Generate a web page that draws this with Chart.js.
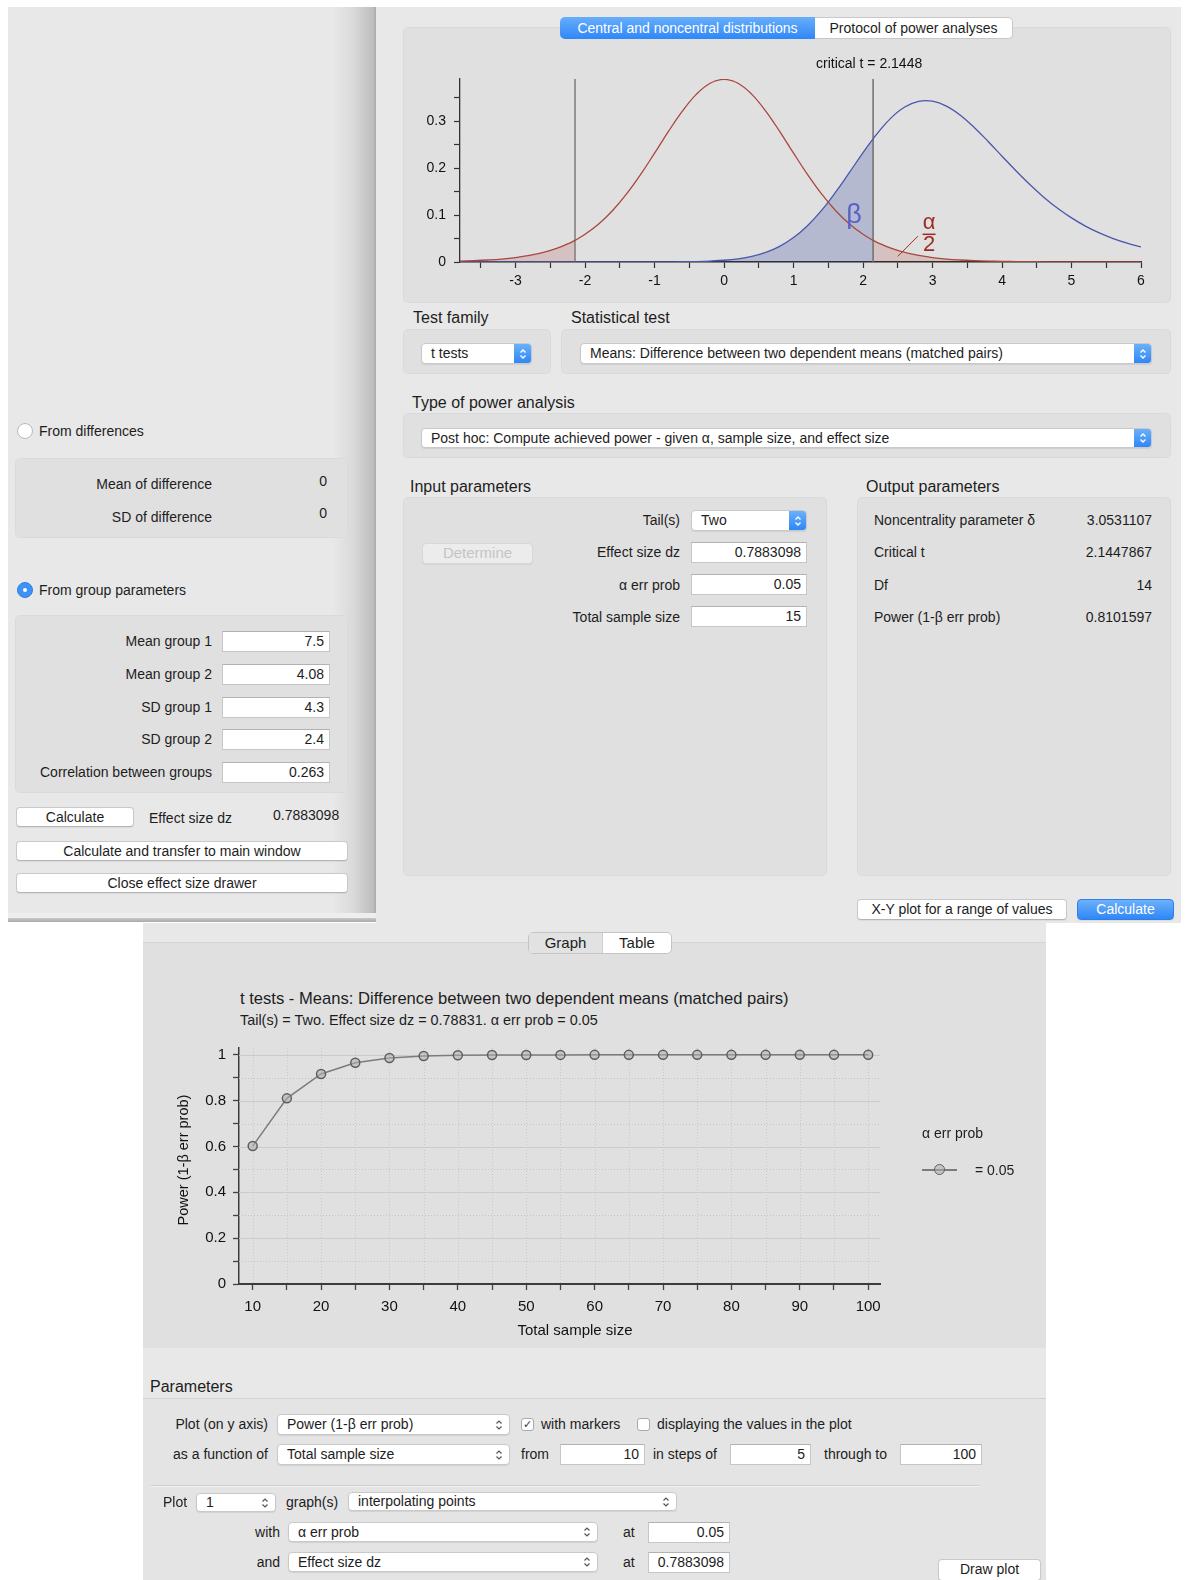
<!DOCTYPE html>
<html>
<head>
<meta charset="utf-8">
<title>G*Power - matched pairs t test</title>
<script src="https://cdn.jsdelivr.net/npm/chart.js@4.4.1/dist/chart.umd.min.js"></script>
<style>
  :root { --f: "Liberation Sans", Arial, Helvetica, sans-serif; }
  html, body { margin: 0; padding: 0; background: #fff; }
  #page { position: relative; width: 1187px; height: 1580px; overflow: hidden; font: 14px var(--f); color: #1d1d1d; }
  .a { position: absolute; }
  .tx { position: absolute; white-space: nowrap; line-height: 16px; height: 16px; }
  .hd { position: absolute; white-space: nowrap; font-size: 16px; line-height: 18px; }
  .grp { position: absolute; background: #e0e0e0; border-radius: 5px; box-shadow: inset 0 0 0 1px rgba(0,0,0,0.025); }
  .sel { position: absolute; box-sizing: border-box; background: #fff; border: 1px solid #c9c9c9; border-radius: 4px;
         box-shadow: 0 1px 1px rgba(0,0,0,0.08); line-height: 19px; padding-left: 9px; white-space: nowrap; overflow: hidden; }
  .step { position: absolute; right: -1px; top: -1px; bottom: -1px; width: 18px; border-radius: 0 4px 4px 0;
          background: url("data:image/svg+xml,%3Csvg xmlns='http://www.w3.org/2000/svg' width='8' height='12'%3E%3Cpath d='M1.5 4.5L4 2L6.5 4.5M1.5 7.5L4 10L6.5 7.5' stroke='white' stroke-width='1.4' fill='none'/%3E%3C/svg%3E") center/8px 12px no-repeat, linear-gradient(#6cb3fb, #2c84f6); }
  .chev { position: absolute; right: 6px; top: 0; bottom: 0; width: 8px;
          background: url("data:image/svg+xml,%3Csvg xmlns='http://www.w3.org/2000/svg' width='8' height='12'%3E%3Cpath d='M1.5 4.5L4 2L6.5 4.5M1.5 7.5L4 10L6.5 7.5' stroke='%23555' stroke-width='1.2' fill='none'/%3E%3C/svg%3E") center/8px 12px no-repeat; }
  .inp { position: absolute; box-sizing: border-box; background: #fff; border: 1px solid #c6c6c6; border-top-color: #b2b2b2;
         text-align: right; padding-right: 5px; line-height: 19px; white-space: nowrap; }
  .btn { position: absolute; box-sizing: border-box; background: #fff; border: 1px solid #c9c9c9; border-bottom-color: #b4b4b4;
         border-radius: 4px; text-align: center; line-height: 18px; white-space: nowrap; box-shadow: 0 1px 1px rgba(0,0,0,0.06); }
  .rad { position: absolute; width: 16px; height: 16px; box-sizing: border-box; border-radius: 50%; background: #fff; border: 1px solid #b9b9b9; }
  .rad.on { background: #3d91f7; border-color: #2f80e4; }
  .rad.on::after { content: ''; position: absolute; left: 5px; top: 5px; width: 4px; height: 4px; border-radius: 50%; background: #fff; }
  .chk { position: absolute; width: 13px; height: 13px; box-sizing: border-box; border: 1px solid #a9a9a9; border-radius: 3px;
         background: #fff; font-size: 11px; line-height: 11px; text-align: center; color: #333; }
  canvas { position: absolute; }
</style>
</head>
<body>
<div id="page">

  <!-- effect size drawer -->
  <div class="a" style="left:8px;top:7px;width:368px;height:915px;background:linear-gradient(to right,#e8e8e8 0,#e8e8e8 325px,#dadada 345px,#bdbdbd 365px,#a9a9a9 368px);"></div>
  <div class="a" style="left:8px;top:913px;width:368px;height:5px;background:#eeeeee;"></div>
  <div class="a" style="left:8px;top:918px;width:368px;height:4px;background:linear-gradient(#c9c9c9,#a9a9a9);"></div>

  <div class="rad" style="left:17px;top:423px;"></div>
  <div class="tx" style="left:39px;top:423px;">From differences</div>
  <div class="grp" style="left:15px;top:458px;width:333px;height:80px;"></div>
  <div class="tx" style="right:975px;top:476px;">Mean of difference</div>
  <div class="tx" style="right:860px;top:473px;">0</div>
  <div class="tx" style="right:975px;top:509px;">SD of difference</div>
  <div class="tx" style="right:860px;top:505px;">0</div>

  <div class="rad on" style="left:17px;top:582px;"></div>
  <div class="tx" style="left:39px;top:582px;">From group parameters</div>
  <div class="grp" style="left:15px;top:615px;width:333px;height:178px;"></div>
  <div class="tx" style="right:975px;top:633px;">Mean group 1</div>
  <div class="inp" style="left:222px;top:631px;width:108px;height:21px;">7.5</div>
  <div class="tx" style="right:975px;top:666px;">Mean group 2</div>
  <div class="inp" style="left:222px;top:664px;width:108px;height:21px;">4.08</div>
  <div class="tx" style="right:975px;top:699px;">SD group 1</div>
  <div class="inp" style="left:222px;top:697px;width:108px;height:21px;">4.3</div>
  <div class="tx" style="right:975px;top:731px;">SD group 2</div>
  <div class="inp" style="left:222px;top:729px;width:108px;height:21px;">2.4</div>
  <div class="tx" style="right:975px;top:764px;">Correlation between groups</div>
  <div class="inp" style="left:222px;top:762px;width:108px;height:21px;">0.263</div>

  <div class="btn" style="left:16px;top:807px;width:118px;height:20px;">Calculate</div>
  <div class="tx" style="left:149px;top:810px;">Effect size dz</div>
  <div class="tx" style="left:273px;top:807px;">0.7883098</div>
  <div class="btn" style="left:16px;top:841px;width:332px;height:20px;">Calculate and transfer to main window</div>
  <div class="btn" style="left:16px;top:873px;width:332px;height:20px;">Close effect size drawer</div>

  <!-- main window -->
  <div class="a" style="left:376px;top:7px;width:805px;height:916px;background:#e8e8e8;"></div>
  <div class="grp" style="left:403px;top:27px;width:768px;height:276px;"></div>
  <div class="a" style="left:560px;top:17px;width:255px;height:22px;border-radius:5px 0 0 5px;background:linear-gradient(#67aefb,#2f87f7);color:#fff;text-align:center;line-height:22px;white-space:nowrap;">Central and noncentral distributions</div>
  <div class="a" style="left:815px;top:17px;width:198px;height:22px;box-sizing:border-box;border:1px solid #c8c8c8;border-left:none;border-radius:0 5px 5px 0;background:#fff;text-align:center;line-height:20px;white-space:nowrap;">Protocol of power analyses</div>
  <canvas id="distChart" width="768" height="262" style="left:403px;top:40px;"></canvas>

  <div class="hd" style="left:413px;top:309px;">Test family</div>
  <div class="hd" style="left:571px;top:309px;">Statistical test</div>
  <div class="grp" style="left:403px;top:329px;width:148px;height:45px;"></div>
  <div class="grp" style="left:561px;top:329px;width:610px;height:45px;"></div>
  <div class="sel" style="left:421px;top:343px;width:111px;height:21px;">t tests<i class="step"></i></div>
  <div class="sel" style="left:580px;top:343px;width:572px;height:21px;">Means: Difference between two dependent means (matched pairs)<i class="step"></i></div>

  <div class="hd" style="left:412px;top:394px;">Type of power analysis</div>
  <div class="grp" style="left:403px;top:413px;width:768px;height:45px;"></div>
  <div class="sel" style="left:421px;top:428px;width:731px;height:20px;line-height:18px;">Post hoc: Compute achieved power - given α, sample size, and effect size<i class="step"></i></div>

  <div class="hd" style="left:410px;top:478px;">Input parameters</div>
  <div class="hd" style="left:866px;top:478px;">Output parameters</div>
  <div class="grp" style="left:403px;top:497px;width:424px;height:379px;"></div>
  <div class="grp" style="left:857px;top:497px;width:314px;height:379px;"></div>

  <div class="tx" style="right:507px;top:512px;">Tail(s)</div>
  <div class="sel" style="left:691px;top:510px;width:116px;height:21px;">Two<i class="step"></i></div>
  <div class="btn" style="left:422px;top:543px;width:111px;height:21px;color:#c4c4c4;background:#ececec;border-color:#d8d8d8;font-size:15px;">Determine</div>
  <div class="tx" style="right:507px;top:544px;">Effect size dz</div>
  <div class="inp" style="left:691px;top:542px;width:116px;height:21px;">0.7883098</div>
  <div class="tx" style="right:507px;top:577px;">α err prob</div>
  <div class="inp" style="left:691px;top:574px;width:116px;height:21px;">0.05</div>
  <div class="tx" style="right:507px;top:609px;">Total sample size</div>
  <div class="inp" style="left:691px;top:606px;width:116px;height:21px;">15</div>

  <div class="tx" style="left:874px;top:512px;">Noncentrality parameter δ</div>
  <div class="tx" style="right:35px;top:512px;">3.0531107</div>
  <div class="tx" style="left:874px;top:544px;">Critical t</div>
  <div class="tx" style="right:35px;top:544px;">2.1447867</div>
  <div class="tx" style="left:874px;top:577px;">Df</div>
  <div class="tx" style="right:35px;top:577px;">14</div>
  <div class="tx" style="left:874px;top:609px;">Power (1-β err prob)</div>
  <div class="tx" style="right:35px;top:609px;">0.8101597</div>

  <div class="btn" style="left:857px;top:899px;width:210px;height:21px;">X-Y plot for a range of values</div>
  <div class="btn" style="left:1077px;top:899px;width:97px;height:21px;color:#fff;border-color:#2f7fe6;background:linear-gradient(#6cb1fb,#2f87f7);">Calculate</div>

  <!-- plot window -->
  <div class="a" style="left:143px;top:923px;width:903px;height:657px;background:#e8e8e8;"></div>
  <div class="a" style="left:143px;top:942px;width:903px;height:1px;background:#d4d4d4;"></div>
  <div class="a" style="left:143px;top:943px;width:903px;height:405px;background:#e0e0e0;"></div>
  <div class="a" style="left:528px;top:932px;width:144px;height:22px;box-sizing:border-box;border:1px solid #c4c4c4;border-radius:5px;background:#fff;overflow:hidden;font-size:15px;line-height:20px;">
    <div class="a" style="left:0;top:0;width:73px;height:20px;background:#e2e2e2;border-right:1px solid #cfcfcf;text-align:center;">Graph</div>
    <div class="a" style="left:74px;top:0;width:68px;height:20px;text-align:center;">Table</div>
  </div>

  <div class="a" style="left:240px;top:989px;font-size:16.6px;line-height:20px;white-space:nowrap;">t tests - Means: Difference between two dependent means (matched pairs)</div>
  <div class="a" style="left:240px;top:1012px;font-size:14.4px;line-height:17px;white-space:nowrap;">Tail(s) = Two. Effect size dz = 0.78831. α err prob = 0.05</div>
  <canvas id="powerChart" width="903" height="406" style="left:143px;top:942px;"></canvas>
  <div class="a" style="left:475px;top:1321px;width:200px;text-align:center;font-size:15px;line-height:18px;white-space:nowrap;color:#111;">Total sample size</div>
  <div class="a" style="left:83px;top:1151px;width:200px;height:18px;text-align:center;font-size:14.5px;line-height:18px;white-space:nowrap;color:#111;transform:rotate(-90deg);">Power (1-β err prob)</div>

  <div class="tx" style="left:922px;top:1125px;">α err prob</div>
  <div class="a" style="left:922px;top:1169px;width:35px;height:2px;background:#7c7c7c;"></div>
  <div class="a" style="left:934px;top:1164px;width:9px;height:9px;border:1.5px solid #5e5e5e;border-radius:50%;background:rgba(175,175,175,0.55);"></div>
  <div class="tx" style="left:975px;top:1162px;">= 0.05</div>

  <div class="hd" style="left:150px;top:1378px;">Parameters</div>
  <div class="a" style="left:143px;top:1398px;width:903px;height:182px;background:#e4e4e4;border-top:1px solid #d2d2d2;"></div>

  <div class="tx" style="right:919px;top:1416px;">Plot (on y axis)</div>
  <div class="sel" style="left:277px;top:1414px;width:233px;height:21px;">Power (1-β err prob)<i class="chev"></i></div>
  <div class="chk" style="left:521px;top:1418px;">✓</div>
  <div class="tx" style="left:541px;top:1416px;">with markers</div>
  <div class="chk" style="left:637px;top:1418px;"></div>
  <div class="tx" style="left:657px;top:1416px;">displaying the values in the plot</div>

  <div class="tx" style="right:919px;top:1446px;">as a function of</div>
  <div class="sel" style="left:277px;top:1444px;width:233px;height:21px;">Total sample size<i class="chev"></i></div>
  <div class="tx" style="left:521px;top:1446px;">from</div>
  <div class="inp" style="left:560px;top:1444px;width:85px;height:21px;">10</div>
  <div class="tx" style="left:653px;top:1446px;">in steps of</div>
  <div class="inp" style="left:730px;top:1444px;width:81px;height:21px;">5</div>
  <div class="tx" style="left:824px;top:1446px;">through to</div>
  <div class="inp" style="left:900px;top:1444px;width:82px;height:21px;">100</div>

  <div class="a" style="left:151px;top:1485px;width:828px;height:1px;background:#cdcdcd;box-shadow:0 1px 0 #f2f2f2;"></div>

  <div class="tx" style="left:163px;top:1494px;">Plot</div>
  <div class="sel" style="left:196px;top:1493px;width:80px;height:19px;line-height:17px;">1<i class="chev"></i></div>
  <div class="tx" style="left:286px;top:1494px;">graph(s)</div>
  <div class="sel" style="left:348px;top:1492px;width:329px;height:19px;line-height:17px;">interpolating points<i class="chev"></i></div>

  <div class="tx" style="right:907px;top:1524px;">with</div>
  <div class="sel" style="left:288px;top:1522px;width:310px;height:20px;line-height:18px;">α err prob<i class="chev"></i></div>
  <div class="tx" style="left:623px;top:1524px;">at</div>
  <div class="inp" style="left:648px;top:1522px;width:82px;height:21px;">0.05</div>

  <div class="tx" style="right:907px;top:1554px;">and</div>
  <div class="sel" style="left:288px;top:1552px;width:310px;height:20px;line-height:18px;">Effect size dz<i class="chev"></i></div>
  <div class="tx" style="left:623px;top:1554px;">at</div>
  <div class="inp" style="left:648px;top:1552px;width:82px;height:21px;">0.7883098</div>

  <div class="btn" style="left:938px;top:1559px;width:103px;height:22px;">Draw plot</div>
</div>

<script>
// ---- distribution plot: central t (H0) and noncentral t (H1), df = 14 ----
const tGrid = [-3.8, -3.6, -3.4, -3.2, -3.0, -2.8, -2.6, -2.4, -2.2, -2.1448, -2.0, -1.8, -1.6, -1.4, -1.2,
  -1.0, -0.8, -0.6, -0.4, -0.2, 0, 0.2, 0.4, 0.6, 0.8, 1.0, 1.2, 1.4, 1.6, 1.8, 2.0, 2.1448,
  2.2, 2.4, 2.6, 2.8, 3.0, 3.2, 3.4, 3.6, 3.8, 4.0, 4.2, 4.4, 4.6, 4.8, 5.0, 5.2, 5.4, 5.6, 5.8, 6.0];
const densityH0 = [0.0019, 0.0029, 0.0043, 0.0063, 0.0094, 0.0139, 0.0203, 0.0294, 0.0420, 0.0462, 0.0591, 0.0817, 0.1104, 0.1456, 0.1867,
  0.2319, 0.2783, 0.3216, 0.3573, 0.3809, 0.3891, 0.3809, 0.3573, 0.3216, 0.2783, 0.2319, 0.1867, 0.1456, 0.1104, 0.0817, 0.0591, 0.0462,
  0.0420, 0.0294, 0.0203, 0.0139, 0.0094, 0.0063, 0.0043, 0.0029, 0.0019, 0.0013, 0.0009, 0.0006, 0.0004, 0.0003, 0.0002, 0.0001, 0.0001, 0.0001, 0, 0];
const densityH1 = [0, 0, 0, 0, 0, 0, 0, 0, 0, 0, 0, 0, 0, 0, 0.0001,
  0.0001, 0.0003, 0.0005, 0.0010, 0.0020, 0.0037, 0.0068, 0.0120, 0.0205, 0.0334, 0.0520, 0.0773, 0.1095, 0.1478, 0.1900, 0.2331, 0.2626,
  0.2732, 0.3066, 0.3302, 0.3424, 0.3428, 0.3322, 0.3128, 0.2868, 0.2569, 0.2255, 0.1944, 0.1650, 0.1382, 0.1145, 0.0940, 0.0766, 0.0620, 0.0500, 0.0402, 0.0322];
const criticalT = 2.1448;
const densityMax = 0.39;
const betaLabelAt = [1.87, 0.10];
const alphaLabelAt = [2.95, 0.059];
const alphaPointer = [[2.5, 0.012], [2.79, 0.055]];

// ---- power plot ----
const sampleSizes = [10, 15, 20, 25, 30, 35, 40, 45, 50, 55, 60, 65, 70, 75, 80, 85, 90, 95, 100];
const powerValues = [0.6020, 0.8102, 0.9167, 0.9657, 0.9865, 0.9949, 0.9981, 0.9993, 0.9998, 0.9999,
  1.0, 1.0, 1.0, 1.0, 1.0, 1.0, 1.0, 1.0, 1.0];

const FONT = '"Liberation Sans", Arial, Helvetica, sans-serif';
const RED = "#a8473e";
const BLUE = "#4a57ab";

function curve(ys, keep) {
  return tGrid.map((t, i) => ({ x: t, y: ys[i] })).filter(p => !keep || keep(p.x));
}

function onStep(step) {
  return scale => {
    scale.ticks = scale.ticks.filter(t => {
      const k = t.value / step;
      return Math.abs(k - Math.round(k)) < 1e-6 && t.value >= scale.min - 1e-9 && t.value <= scale.max + 1e-9;
    });
  };
}

const distLabels = {
  id: "distLabels",
  afterDatasetsDraw(chart) {
    const { ctx, scales: { x, y } } = chart;
    ctx.save();
    ctx.textAlign = "center";
    ctx.textBaseline = "middle";

    ctx.font = "14px " + FONT;
    ctx.fillStyle = "#111";
    ctx.fillText("critical t = " + criticalT.toFixed(4), x.getPixelForValue(criticalT) - 4, 24);

    ctx.font = "27px " + FONT;
    ctx.fillStyle = "#5861c8";
    ctx.fillText("β", x.getPixelForValue(betaLabelAt[0]), y.getPixelForValue(betaLabelAt[1]));

    // alpha / 2 with pointer line
    const ax = x.getPixelForValue(alphaLabelAt[0]);
    const ay = y.getPixelForValue(alphaLabelAt[1]);
    ctx.fillStyle = "#9e2b22";
    ctx.strokeStyle = "#9e2b22";
    ctx.font = "22px " + FONT;
    ctx.fillText("α", ax, ay - 11);
    ctx.fillText("2", ax, ay + 11);
    ctx.lineWidth = 1.5;
    ctx.beginPath();
    ctx.moveTo(ax - 6.5, ay);
    ctx.lineTo(ax + 6.5, ay);
    ctx.stroke();
    ctx.lineWidth = 1;
    ctx.beginPath();
    ctx.moveTo(x.getPixelForValue(alphaPointer[0][0]), y.getPixelForValue(alphaPointer[0][1]));
    ctx.lineTo(x.getPixelForValue(alphaPointer[1][0]), y.getPixelForValue(alphaPointer[1][1]));
    ctx.stroke();
    ctx.restore();
  }
};

const smooth = { pointRadius: 0, tension: 0.4 };

new Chart(document.getElementById("distChart"), {
  type: "line",
  data: {
    datasets: [
      { data: curve(densityH0), borderColor: RED, borderWidth: 1.3, order: 1, ...smooth },
      { data: curve(densityH1), borderColor: BLUE, borderWidth: 1.3, order: 1, ...smooth },
      { data: [{ x: -criticalT, y: 0 }, { x: -criticalT, y: densityMax }], borderColor: "#7b7b7b", borderWidth: 1.5, pointRadius: 0, order: 2 },
      { data: [{ x: criticalT, y: 0 }, { x: criticalT, y: densityMax }], borderColor: "#6e6e6e", borderWidth: 1.5, pointRadius: 0, order: 2 },
      { data: curve(densityH1, t => t <= criticalT + 1e-9), fill: "origin", backgroundColor: "rgba(70,85,165,0.28)",
        borderColor: "rgba(0,0,0,0)", borderWidth: 0, order: 3, ...smooth },
      { data: curve(densityH0, t => t <= -criticalT + 1e-9), fill: "origin", backgroundColor: "rgba(170,70,60,0.2)",
        borderColor: "rgba(0,0,0,0)", borderWidth: 0, order: 3, ...smooth },
      { data: curve(densityH0, t => t >= criticalT - 1e-9), fill: "origin", backgroundColor: "rgba(170,70,60,0.2)",
        borderColor: "rgba(0,0,0,0)", borderWidth: 0, order: 3, ...smooth }
    ]
  },
  options: {
    responsive: false,
    animation: false,
    devicePixelRatio: 1,
    layout: { padding: { top: 39, right: 30, left: 0, bottom: 0 } },
    plugins: { legend: { display: false }, tooltip: { enabled: false } },
    scales: {
      x: {
        type: "linear", min: -3.8, max: 6,
        afterBuildTicks: onStep(0.5),
        afterFit: s => { s.height = 40; },
        ticks: { stepSize: 0.5, includeBounds: false, autoSkip: false, maxRotation: 0, padding: 5, color: "#111",
          font: { family: FONT, size: 14 },
          callback: v => Number.isInteger(Math.round(v * 1e6) / 1e6) ? String(Math.round(v)) : "" },
        grid: { drawOnChartArea: false, tickLength: 6, tickColor: "#333", tickWidth: 1.2 },
        border: { color: "#222", width: 1.6 }
      },
      y: {
        min: 0, max: densityMax,
        afterBuildTicks: onStep(0.05),
        afterFit: s => { s.width = 57; },
        ticks: { stepSize: 0.05, includeBounds: false, autoSkip: false, padding: 8, color: "#111",
          font: { family: FONT, size: 14 },
          callback: v => { const k = Math.round(v * 20); return k % 2 ? "" : (k === 0 ? "0" : (k / 20).toFixed(1)); } },
        grid: { drawOnChartArea: false, tickLength: 6, tickColor: "#333", tickWidth: 1.2 },
        border: { color: "#333", width: 1.3 }
      }
    }
  },
  plugins: [distLabels]
});

// light grid behind the power curve: solid at 0.2 steps, dotted elsewhere
const powerGrid = {
  id: "powerGrid",
  beforeDatasetsDraw(chart) {
    const { ctx, chartArea: a, scales: { x, y } } = chart;
    ctx.save();
    ctx.lineWidth = 1;
    x.ticks.forEach(t => {
      const px = Math.round(x.getPixelForValue(t.value)) + 0.5;
      ctx.strokeStyle = "#c9c9c9";
      ctx.setLineDash([1, 2]);
      ctx.beginPath(); ctx.moveTo(px, a.top); ctx.lineTo(px, a.bottom); ctx.stroke();
    });
    y.ticks.forEach(t => {
      if (t.value === 0) return;
      const py = Math.round(y.getPixelForValue(t.value)) + 0.5;
      const major = Math.round(t.value * 10) % 2 === 0;
      ctx.strokeStyle = major ? "#cbcbcb" : "#c4c4c4";
      ctx.setLineDash(major ? [] : [1, 2]);
      ctx.beginPath(); ctx.moveTo(a.left, py); ctx.lineTo(a.right, py); ctx.stroke();
    });
    ctx.restore();
  }
};

new Chart(document.getElementById("powerChart"), {
  type: "line",
  data: {
    datasets: [{
      label: "α err prob = 0.05",
      data: sampleSizes.map((n, i) => ({ x: n, y: powerValues[i] })),
      borderColor: "#7c7c7c",
      borderWidth: 1.5,
      pointRadius: 4.5,
      pointBackgroundColor: "rgba(175,175,175,0.55)",
      pointBorderColor: "#5e5e5e",
      pointBorderWidth: 1.5,
      tension: 0
    }]
  },
  options: {
    responsive: false,
    animation: false,
    devicePixelRatio: 1,
    layout: { padding: { top: 106, right: 165.5, left: 0, bottom: 0 } },
    plugins: { legend: { display: false }, tooltip: { enabled: false } },
    scales: {
      x: {
        type: "linear", min: 8, max: 101.8,
        afterBuildTicks: onStep(5),
        afterFit: s => { s.height = 64; },
        ticks: { stepSize: 5, includeBounds: false, autoSkip: false, maxRotation: 0, padding: 8, color: "#111",
          font: { family: FONT, size: 15 },
          callback: v => (Math.round(v) % 10 === 0 ? String(Math.round(v)) : "") },
        grid: { drawOnChartArea: false, tickLength: 6, tickColor: "#444", tickWidth: 1.3 },
        border: { color: "#3c3c3c", width: 2 }
      },
      y: {
        min: 0, max: 1.03,
        afterBuildTicks: onStep(0.1),
        afterFit: s => { s.width = 96; },
        ticks: { stepSize: 0.1, includeBounds: false, autoSkip: false, padding: 7, color: "#111",
          font: { family: FONT, size: 15 },
          callback: v => { const k = Math.round(v * 10); return k % 2 ? "" : String(k / 10); } },
        grid: { drawOnChartArea: false, tickLength: 6, tickColor: "#444", tickWidth: 1.3 },
        border: { color: "#3c3c3c", width: 1.5 }
      }
    }
  },
  plugins: [powerGrid]
});
</script>
</body>
</html>
